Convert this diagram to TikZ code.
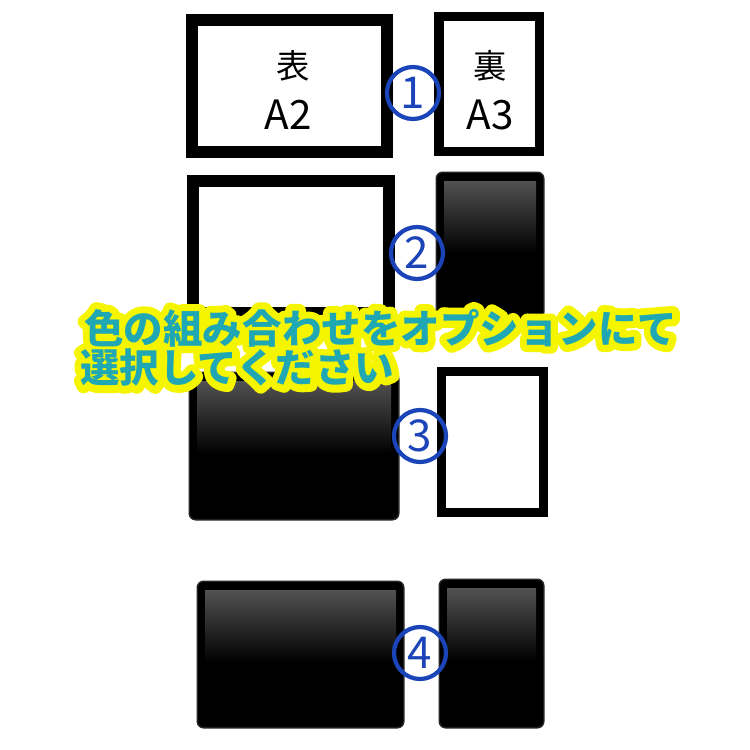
\documentclass[tikz,border=0pt]{standalone}
\usepackage{fontspec}
\newfontfamily\jpfont{Noto Sans CJK JP}
\usetikzlibrary{calc}
\definecolor{kreisblau}{HTML}{1A44B8}
\definecolor{textteal}{HTML}{1FA8B4}
\definecolor{randgelb}{HTML}{F6F500}

% schwarze Tafel: x1,y1,x2,y2
\newcommand{\tafel}[4]{%
  \fill[black!85, rounded corners=4pt] ({#1-1.5},{#2-1.5}) rectangle ({#3+1.5},{#4+1.5});
  \fill[black, rounded corners=3pt] (#1,#2) rectangle (#3,#4);
  \shade[top color=black!68, bottom color=black] ({#1+7},{#2+8}) rectangle ({#3-7},{#2+8+0.5*(#4-#2)});
}
% gelber Rand um den Text
\newcommand{\umrandet}[1]{%
  {\color{randgelb}\special{pdf:literal direct 1 j 1 J 8 w 2 Tr}#1\special{pdf:literal direct 0 Tr 1 w}}}

\begin{document}
\begin{tikzpicture}[x=0.02cm,y=-0.02cm,
  rahmen/.style={draw=black, line width=0.24cm},
  nummer/.style={circle, draw=kreisblau, line width=2.4pt, text=kreisblau, minimum size=1.04cm,
    inner sep=0pt, font=\jpfont\fontsize{25}{25}\selectfont},
  schild/.style={font=\jpfont\fontsize{#1}{#1}\selectfont, inner sep=0pt},
  hinweis/.style={font=\jpfont\bfseries\fontsize{22.5}{22.5}\selectfont, inner sep=0pt, anchor=west}]
\useasboundingbox (0,0) rectangle (750,750);
\fill[white] (0,0) rectangle (750,750);

%1
\draw[rahmen] (192,20) rectangle (387,152);
\draw[rahmen, line width=0.19cm] (438.75,16.75) rectangle (539.25,151.25);
\node[schild=19] (vorne) at (293,66) {表};
\node[schild=23] (vorneformat) at (288,115) {A2};
\node[schild=19] (hinten) at (490,66) {裏};
\node[schild=23] (hintenformat) at (490,115) {A3};

%2
\draw[rahmen] (193,181) rectangle (389,313);
\tafel{437}{173}{543}{318}

%3
\tafel{190}{373}{398}{519}
\draw[rahmen, line width=0.18cm] (441.5,371.5) rectangle (543.5,512.5);

%4
\tafel{198}{582}{403}{727}
\tafel{440}{580}{543}{727}

\node[nummer] (n1) at (413,93) {1};
\node[nummer] (n2) at (417,253) {2};
\node[nummer] (n3) at (420,436) {3};
\node[nummer] (n4) at (420,653) {4};

%Beschriftung
\node[hinweis] (rand1) at (84,328) {\umrandet{色の組み合わせをオプションにて}};
\node[hinweis] (rand2) at (80,368) {\umrandet{選択してください}};
\node[hinweis, text=textteal] (zeile1) at (84,328) {色の組み合わせをオプションにて};
\node[hinweis, text=textteal] (zeile2) at (80,368) {選択してください};

\end{tikzpicture}
\end{document}
